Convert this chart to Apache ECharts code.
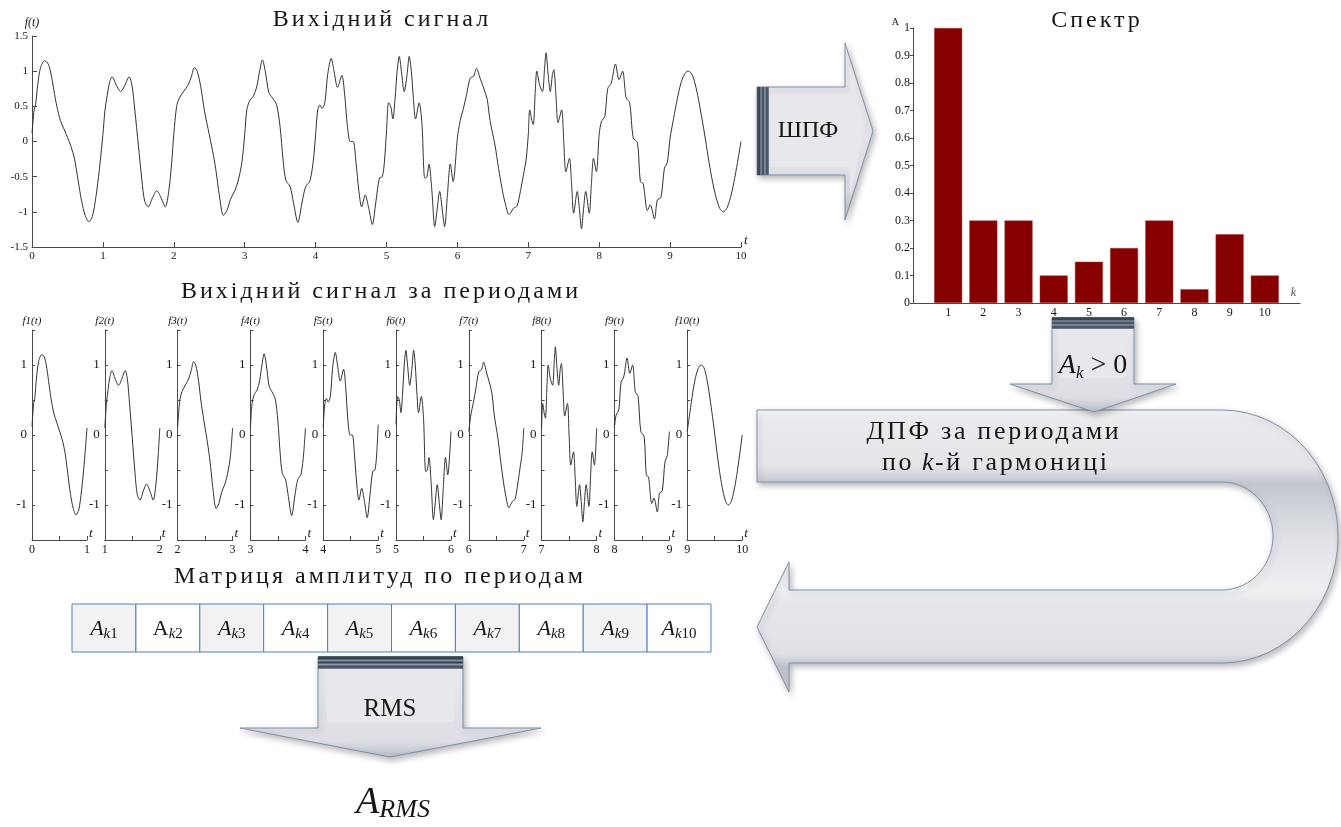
<!DOCTYPE html>
<html>
<head>
<meta charset="utf-8">
<script src="https://cdn.jsdelivr.net/npm/echarts@6/dist/echarts.min.js"></script>
<style>
  html, body { margin: 0; padding: 0; background: #ffffff; }
  #chart { width: 1341px; height: 827px; }
</style>
</head>
<body>
<div id="chart"></div>
<script>
// ---- Signal samples, one array per period: [t, f(t)] ----
const period1 = [[0,0.12],[0.03,0.45],[0.05,0.52],[0.08,0.8],[0.12,1.05],[0.18,1.15],[0.23,1.1],[0.27,0.95],[0.31,0.72],[0.35,0.5],[0.4,0.3],[0.45,0.18],[0.5,0.06],[0.55,-0.07],[0.6,-0.25],[0.65,-0.55],[0.7,-0.85],[0.75,-1.05],[0.8,-1.14],[0.85,-1.07],[0.9,-0.8],[0.95,-0.4],[1.0,0.1]];
const period2 = [[1.0,0.1],[1.03,0.45],[1.06,0.65],[1.09,0.82],[1.13,0.92],[1.19,0.8],[1.25,0.71],[1.31,0.8],[1.37,0.92],[1.41,0.8],[1.45,0.45],[1.5,-0.05],[1.55,-0.55],[1.59,-0.85],[1.64,-0.93],[1.7,-0.8],[1.76,-0.7],[1.82,-0.8],[1.88,-0.93],[1.93,-0.7],[1.97,-0.3],[2.0,0.1]];
const period3 = [[2.0,0.1],[2.04,0.5],[2.08,0.62],[2.13,0.7],[2.2,0.8],[2.25,0.93],[2.29,1.05],[2.33,1.0],[2.38,0.78],[2.43,0.45],[2.5,0.1],[2.56,-0.2],[2.6,-0.45],[2.64,-0.75],[2.7,-1.05],[2.75,-0.98],[2.8,-0.82],[2.86,-0.7],[2.91,-0.55],[2.96,-0.3],[3.0,0.1]];
const period4 = [[3.0,0.1],[3.03,0.45],[3.07,0.58],[3.12,0.64],[3.17,0.78],[3.21,1.0],[3.25,1.16],[3.29,1.0],[3.34,0.7],[3.39,0.62],[3.45,0.52],[3.5,0.2],[3.54,-0.25],[3.58,-0.55],[3.64,-0.64],[3.69,-0.88],[3.75,-1.15],[3.81,-0.86],[3.86,-0.64],[3.92,-0.56],[3.97,-0.25],[4.0,0.1]];
const period5 = [[4.0,0.1],[4.03,0.45],[4.06,0.52],[4.09,0.47],[4.13,0.55],[4.17,0.95],[4.22,1.18],[4.26,1.0],[4.31,0.77],[4.37,0.94],[4.41,0.67],[4.45,0.2],[4.49,0.0],[4.53,0.0],[4.57,-0.3],[4.61,-0.7],[4.65,-0.93],[4.7,-0.76],[4.75,-0.95],[4.8,-1.18],[4.85,-0.86],[4.9,-0.52],[4.94,-0.5],[4.97,-0.3],[5.0,0.15]];
const period6 = [[5.0,0.15],[5.03,0.55],[5.06,0.5],[5.09,0.32],[5.12,0.6],[5.15,1.0],[5.18,1.21],[5.21,1.0],[5.25,0.71],[5.29,0.95],[5.32,1.21],[5.35,1.0],[5.38,0.6],[5.41,0.32],[5.46,0.55],[5.5,0.25],[5.54,-0.52],[5.57,-0.5],[5.6,-0.32],[5.64,-0.7],[5.68,-1.21],[5.71,-1.0],[5.75,-0.71],[5.79,-1.0],[5.82,-1.21],[5.86,-0.75],[5.9,-0.32],[5.94,-0.57],[6.0,0.05]];
const period7 = [[6.0,0.05],[6.04,0.3],[6.08,0.45],[6.13,0.67],[6.18,0.9],[6.23,0.93],[6.27,1.04],[6.32,0.9],[6.37,0.76],[6.42,0.6],[6.46,0.3],[6.53,-0.05],[6.58,-0.38],[6.63,-0.67],[6.67,-0.86],[6.73,-1.04],[6.79,-0.95],[6.84,-0.92],[6.89,-0.7],[6.93,-0.48],[6.97,-0.25],[7.0,0.1]];
const period8 = [[7.0,0.1],[7.02,0.45],[7.05,0.3],[7.07,0.24],[7.1,0.75],[7.12,1.0],[7.16,0.8],[7.2,0.71],[7.23,1.05],[7.25,1.26],[7.28,0.95],[7.31,0.71],[7.34,0.95],[7.36,1.02],[7.39,0.65],[7.42,0.27],[7.47,0.45],[7.5,0.0],[7.53,-0.43],[7.58,-0.24],[7.61,-0.6],[7.64,-1.02],[7.69,-0.71],[7.72,-0.95],[7.75,-1.24],[7.78,-0.95],[7.81,-0.71],[7.86,-1.02],[7.89,-0.6],[7.92,-0.24],[7.96,-0.43],[8.0,0.1]];
const period9 = [[8.0,0.1],[8.03,0.28],[8.08,0.36],[8.12,0.75],[8.17,0.83],[8.23,1.1],[8.28,0.88],[8.33,1.0],[8.38,0.62],[8.43,0.55],[8.48,0.05],[8.54,-0.02],[8.58,-0.57],[8.62,-0.6],[8.68,-0.98],[8.72,-0.9],[8.78,-1.1],[8.82,-0.83],[8.87,-0.8],[8.92,-0.38],[8.96,-0.3],[9.0,0.05]];
const period10 = [[9.0,0.05],[9.05,0.33],[9.1,0.6],[9.15,0.82],[9.2,0.95],[9.25,1.0],[9.3,0.97],[9.35,0.83],[9.4,0.6],[9.45,0.32],[9.5,0.02],[9.55,-0.3],[9.6,-0.58],[9.65,-0.8],[9.7,-0.95],[9.75,-1.0],[9.8,-0.95],[9.85,-0.8],[9.9,-0.58],[9.95,-0.3],[10.0,0.0]];

// ---- Amplitude spectrum ----
const spectrumOrders = [1, 2, 3, 4, 5, 6, 7, 8, 9, 10];
const spectrumAmplitudes = [1, 0.3, 0.3, 0.1, 0.15, 0.2, 0.3, 0.05, 0.25, 0.1];

// ---- Per-period amplitude matrix cells ----
const matrixIndices = ['1', '2', '3', '4', '5', '6', '7', '8', '9', '10'];

const periods = [period1, period2, period3, period4, period5, period6, period7, period8, period9, period10];

const FONT = "'Liberation Serif', 'Times New Roman', serif";
const INK = '#161616';
const AXIS = '#4a4a4a';
const LINE = '#333333';

// Wider tracking for the caption lettering (canvas letterSpacing)
const tracking = {
  'Вихідний сигнал': 3, 'Вихідний сигнал за периодами': 3, 'Матриця амплитуд по периодам': 3,
  'Спектр': 3, 'ДПФ за периодами': 2.7, 'по': 2.7, '-й гармониці': 2.7
};
(function () {
  const proto = CanvasRenderingContext2D.prototype;
  if (!('letterSpacing' in proto)) return;
  const fill = proto.fillText;
  function refont(ctx) {
    const f = ctx.font;
    ctx.font = '1px serif';
    ctx.font = f;
  }
  proto.fillText = function (str, x, y, maxW) {
    const s = tracking[str] || 0;
    if (s) {
      this.letterSpacing = '0px';
      refont(this);
      this.letterSpacing = s + 'px';
    } else if (this.letterSpacing !== '0px') {
      this.letterSpacing = '0px';
      refont(this);
    }
    const r = maxW === undefined ? fill.call(this, str, x, y) : fill.call(this, str, x, y, maxW);
    if (s) {
      this.letterSpacing = '0px';
      refont(this);
    }
    return r;
  };
})();

// whole signal: periods joined, shared boundary points kept once
const fullSignal = [];
periods.forEach(p => p.forEach(pt => {
  const last = fullSignal[fullSignal.length - 1];
  if (!last || last[0] !== pt[0]) fullSignal.push(pt);
}));

const grids = [], xAxes = [], yAxes = [], series = [];

function labelStyle(size) {
  return { fontFamily: FONT, fontSize: size, color: INK };
}

// main signal plot
grids.push({ left: 32, top: 36, width: 709, height: 211 });
xAxes.push({
  type: 'value', gridIndex: 0, min: 0, max: 10, interval: 1,
  name: 't', nameGap: 3,
  nameTextStyle: { fontFamily: FONT, fontStyle: 'italic', fontSize: 13, color: INK, verticalAlign: 'bottom', align: 'left' },
  axisLine: { onZero: false, lineStyle: { color: AXIS, width: 1 } },
  axisTick: { inside: true, length: 5, lineStyle: { color: AXIS } },
  axisLabel: Object.assign({ margin: 4 }, labelStyle(11)),
  splitLine: { show: false }
});
yAxes.push({
  type: 'value', gridIndex: 0, min: -1.5, max: 1.5, interval: 0.5,
  name: 'f(t)', nameGap: 7,
  nameTextStyle: { fontFamily: FONT, fontStyle: 'italic', fontSize: 12, color: INK },
  axisLine: { onZero: false, lineStyle: { color: AXIS, width: 1 } },
  axisTick: { inside: true, length: 5, lineStyle: { color: AXIS } },
  axisLabel: Object.assign({ margin: 4 }, labelStyle(11)),
  splitLine: { show: false }
});
series.push({
  type: 'line', xAxisIndex: 0, yAxisIndex: 0, data: fullSignal,
  showSymbol: false, smooth: 0.3, lineStyle: { color: LINE, width: 1 }
});

// one small plot per period
periods.forEach((p, i) => {
  const gi = i + 1;
  grids.push({ left: 32 + 72.8 * i, top: 330, width: 55, height: 210 });
  xAxes.push({
    type: 'value', gridIndex: gi, min: i, max: i + 1, interval: 0.5,
    name: 't', nameGap: 2,
    nameTextStyle: { fontFamily: FONT, fontStyle: 'italic', fontSize: 13, color: INK, verticalAlign: 'bottom', align: 'left' },
    axisLine: { onZero: false, lineStyle: { color: AXIS, width: 1 } },
    axisTick: { inside: true, length: 4, lineStyle: { color: AXIS } },
    axisLabel: Object.assign({ margin: 4, showMinLabel: true, showMaxLabel: true,
      formatter: v => (Math.abs(v - Math.round(v)) < 1e-9 ? String(Math.round(v)) : '') }, labelStyle(12)),
    splitLine: { show: false }
  });
  yAxes.push({
    type: 'value', gridIndex: gi, min: -1.5, max: 1.5, interval: 0.5,
    name: 'f' + (i + 1) + '(t)', nameGap: 3,
    nameTextStyle: { fontFamily: FONT, fontStyle: 'italic', fontSize: 11, color: INK, align: 'center' },
    axisLine: { onZero: false, lineStyle: { color: AXIS, width: 1 } },
    axisTick: { inside: true, length: 3, lineStyle: { color: AXIS } },
    axisLabel: Object.assign({ margin: 5,
      formatter: v => (Math.abs(v - Math.round(v)) < 1e-9 ? String(Math.round(v)) : '') }, labelStyle(13)),
    splitLine: { show: false }
  });
  series.push({
    type: 'line', xAxisIndex: gi, yAxisIndex: gi, data: p,
    showSymbol: false, smooth: 0.3, lineStyle: { color: LINE, width: 1 }
  });
});

// spectrum bar chart
const SG = 11;
grids.push({ left: 913, top: 28, width: 387, height: 275 });
xAxes.push({
  type: 'value', gridIndex: SG, min: 0, max: 11, interval: 1,
  name: 'k', nameGap: 0,
  nameTextStyle: { fontFamily: FONT, fontStyle: 'italic', fontSize: 12, color: '#555', align: 'right', verticalAlign: 'bottom', padding: [0, 4, 4, 0] },
  axisLine: { onZero: false, lineStyle: { color: AXIS, width: 1 } },
  axisTick: { show: false },
  axisLabel: Object.assign({ margin: 4, formatter: v => (v >= 1 && v <= 10 ? String(v) : '') }, labelStyle(12)),
  splitLine: { show: false }
});
yAxes.push({
  type: 'value', gridIndex: SG, min: 0, max: 1, interval: 0.1,
  name: 'A', nameGap: 1,
  nameTextStyle: { fontFamily: FONT, fontSize: 10, color: INK, align: 'right', padding: [0, 14, 0, 0] },
  axisLine: { onZero: false, lineStyle: { color: AXIS, width: 1 } },
  axisTick: { inside: false, length: 3, lineStyle: { color: AXIS } },
  axisLabel: Object.assign({ margin: 3, formatter: v => String(parseFloat(v.toFixed(1))) }, labelStyle(12)),
  splitLine: { show: false }
});
series.push({
  type: 'bar', xAxisIndex: SG, yAxisIndex: SG, barWidth: 28,
  data: spectrumOrders.map((k, i) => [k, spectrumAmplitudes[i]]),
  itemStyle: { color: '#860000', borderColor: '#a33a3a', borderWidth: 0.5 }
});

// ---- diagram graphics ----
function text(str, x, y, size, extra) {
  return {
    type: 'text', x: x, y: y, z: 100,
    style: Object.assign({
      text: str, fill: INK, fontFamily: FONT, fontSize: size,
      align: 'center', verticalAlign: 'middle', textAlign: 'center', textVerticalAlign: 'middle'
    }, extra || {})
  };
}

const faceGradH = { type: 'linear', x: 0, y: 0, x2: 0, y2: 1, colorStops: [
  { offset: 0, color: '#fbfbfc' }, { offset: 0.12, color: '#e9eaee' },
  { offset: 0.85, color: '#dcdee3' }, { offset: 1, color: '#b6bbc4' }] };
const stripesX = { type: 'linear', x: 0, y: 0, x2: 1, y2: 0, colorStops: [
  { offset: 0, color: '#5a6475' }, { offset: 0.18, color: '#2c3544' }, { offset: 0.34, color: '#8591a3' },
  { offset: 0.5, color: '#333d4c' }, { offset: 0.66, color: '#8e9aab' }, { offset: 0.82, color: '#3a4454' },
  { offset: 1, color: '#7c889a' }] };
const stripesY = { type: 'linear', x: 0, y: 0, x2: 0, y2: 1, colorStops: stripesX.colorStops };
const shadow = { shadowBlur: 6, shadowColor: 'rgba(0,0,0,0.28)', shadowOffsetX: 2, shadowOffsetY: 3 };
const OUTLINE = '#7f91aa';

function arrow(outer, inner, stripeRect, stripeFill, z) {
  const els = [];
  els.push({ type: 'polygon', z: z, shape: { points: outer },
    style: Object.assign({ fill: faceGradH, stroke: OUTLINE, lineWidth: 1 }, shadow) });
  els.push({ type: 'polygon', z: z + 1, shape: { points: inner },
    style: { fill: '#e7e8ec' } });
  els.push({ type: 'rect', z: z + 2, shape: stripeRect, style: { fill: stripeFill } });
  return els;
}

// U-turn arrow outline built from two elliptic arcs
function uArrowPoints() {
  const pts = [[757, 410], [1222, 410]];
  const n = 30;
  for (let i = 1; i < n; i++) {
    const a = -Math.PI / 2 + Math.PI * i / n;
    pts.push([1222 + 116 * Math.cos(a), 536.5 + 126.5 * Math.sin(a)]);
  }
  pts.push([1222, 663], [789, 663], [789, 692], [757, 627], [789, 562], [789, 590], [1222, 590]);
  for (let i = 1; i < n; i++) {
    const a = Math.PI / 2 - Math.PI * i / n;
    pts.push([1222 + 51 * Math.cos(a), 536 + 54 * Math.sin(a)]);
  }
  pts.push([1222, 482], [757, 482]);
  return pts;
}
const uFace = { type: 'linear', x: 0, y: 0, x2: 0, y2: 1, colorStops: [
  { offset: 0, color: '#fafbfc' }, { offset: 0.04, color: '#e9eaee' }, { offset: 0.2, color: '#e3e5e9' },
  { offset: 0.26, color: '#c3c7ce' }, { offset: 0.45, color: '#dfe1e5' }, { offset: 0.64, color: '#eef0f2' },
  { offset: 0.68, color: '#e6e7eb' }, { offset: 0.86, color: '#dfe1e5' }, { offset: 0.91, color: '#bfc3ca' },
  { offset: 1, color: '#c8ccd2' }] };

const graphics = [];
graphics.push({ type: 'polygon', z: 5, shape: { points: uArrowPoints() },
  style: Object.assign({ fill: uFace, stroke: OUTLINE, lineWidth: 1 }, shadow) });

// FFT arrow (to the right)
graphics.push(...arrow(
  [[757, 87], [845, 87], [845, 43], [873, 131], [845, 220], [845, 175], [757, 175]],
  [[770, 95], [850, 95], [850, 66], [864, 131], [850, 196], [850, 167], [770, 167]],
  { x: 757, y: 87, width: 12, height: 88 }, stripesX, 20));
// A_k > 0 arrow (down)
graphics.push(...arrow(
  [[1052, 318], [1134, 318], [1134, 384], [1176, 384], [1094, 412], [1010, 384], [1052, 384]],
  [[1060, 330], [1126, 330], [1126, 378], [1060, 378]],
  { x: 1052, y: 317, width: 82, height: 12 }, stripesY, 20));
// RMS arrow (down)
graphics.push(...arrow(
  [[318, 657], [463, 657], [463, 728], [541, 728], [390, 757], [240, 728], [318, 728]],
  [[327, 670], [454, 670], [454, 722], [327, 722]],
  { x: 318, y: 656, width: 145, height: 13 }, stripesY, 20));

// titles
graphics.push(text('Вихідний сигнал', 382, 20, 24));
graphics.push(text('Вихідний сигнал за периодами', 381, 292, 24));
graphics.push(text('Матриця амплитуд по периодам', 380, 577, 24));
graphics.push(text('Спектр', 1097, 21, 24));

// arrow captions
graphics.push(text('ШПФ', 808, 131, 24));
graphics.push(text('RMS', 390, 709, 25));
graphics.push(text('ДПФ за периодами', 994, 432, 26));
graphics.push(text('по', 882, 463, 26, { align: 'left', textAlign: 'left' }));
graphics.push(text('k', 922, 463, 26, { align: 'left', textAlign: 'left', fontStyle: 'italic' }));
graphics.push(text('-й гармониці', 935, 463, 26, { align: 'left', textAlign: 'left' }));
graphics.push(text('{a|A}{k|k}{r| > 0}', 1093, 366, 26, { rich: {
  a: { fontFamily: FONT, fontSize: 28, fontStyle: 'italic', lineHeight: 32, fill: INK },
  k: { fontFamily: FONT, fontSize: 17, fontStyle: 'italic', lineHeight: 20, verticalAlign: 'bottom', fill: INK },
  r: { fontFamily: FONT, fontSize: 28, lineHeight: 32, fill: INK } } }));
graphics.push(text('{a|A}{s|RMS}', 393, 803, 36, { rich: {
  a: { fontFamily: FONT, fontSize: 38, fontStyle: 'italic', lineHeight: 40, fill: INK },
  s: { fontFamily: FONT, fontSize: 26, fontStyle: 'italic', lineHeight: 22, verticalAlign: 'bottom', fill: INK } } }));

// amplitude matrix row
const cellW = 63.9, tableX = 72, tableY = 604, cellH = 48;
matrixIndices.forEach((n, i) => {
  graphics.push({ type: 'rect', z: 30,
    shape: { x: tableX + i * cellW, y: tableY, width: cellW, height: cellH },
    style: { fill: i % 2 === 0 ? '#f2f2f2' : '#ffffff', stroke: '#4f7fc0', lineWidth: 1 } });
  graphics.push(text('{a|A}{k|k}{n|' + n + '}', tableX + (i + 0.5) * cellW, tableY + cellH / 2 + 1, 20, { rich: {
    a: { fontFamily: FONT, fontSize: 22, fontStyle: n === '2' ? 'normal' : 'italic', lineHeight: 26, fill: INK },
    k: { fontFamily: FONT, fontSize: 15, fontStyle: 'italic', lineHeight: 16, verticalAlign: 'bottom', fill: INK },
    n: { fontFamily: FONT, fontSize: 15, lineHeight: 16, verticalAlign: 'bottom', fill: INK } } }));
});

const chart = echarts.init(document.getElementById('chart'), null, { renderer: 'canvas' });
chart.setOption({
  animation: false,
  backgroundColor: '#ffffff',
  grid: grids,
  xAxis: xAxes,
  yAxis: yAxes,
  series: series,
  graphic: { elements: graphics }
});
</script>
</body>
</html>
